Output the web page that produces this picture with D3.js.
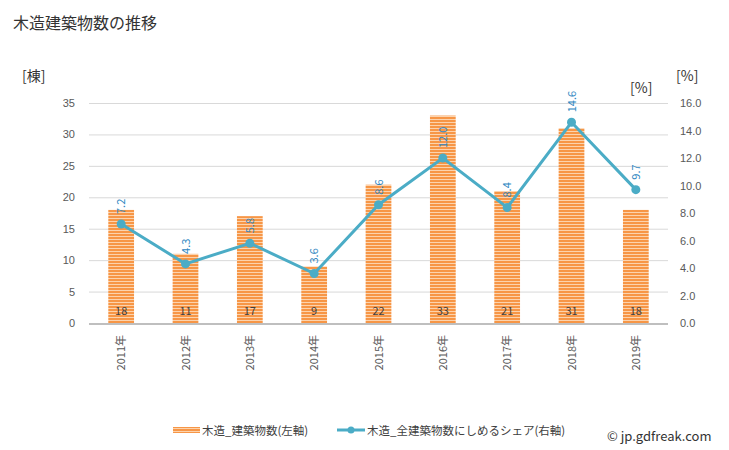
<!DOCTYPE html>
<html><head><meta charset="utf-8">
<script src="https://cdn.jsdelivr.net/npm/d3@7"></script>
<style>body{margin:0;background:#fff}svg{display:block;font-family:"Noto Sans CJK JP","Noto Sans",sans-serif}</style>
</head><body><svg id="c" width="729" height="450"></svg>
<script>
const categories = ["2011年","2012年","2013年","2014年","2015年","2016年","2017年","2018年","2019年"];
const barValues = [18,11,17,9,22,33,21,31,18];
const shareValues = [7.2,4.3,5.8,3.6,8.6,12.0,8.4,14.6,9.7];
const leftTicks = [0,5,10,15,20,25,30,35];
const rightTicks = [0,2,4,6,8,10,12,14,16];

const svg = d3.select("#c");
const L = 89, R = 668, T = 103, B = 323;
const x = d3.scaleBand().domain(categories).range([L, R]).paddingInner(0.6).paddingOuter(0.3);
const xc = d3.scalePoint().domain(categories).range([L, R]).padding(0.5);
const y = d3.scaleLinear().domain([0,35]).range([B, T]);
const y2 = d3.scaleLinear().domain([0,16]).range([B, T]);

const defs = svg.append("defs");
const pat = defs.append("pattern").attr("id","stripe").attr("patternUnits","userSpaceOnUse").attr("width",4).attr("height",3);
pat.append("rect").attr("width",4).attr("height",3).attr("fill","#f79646");
pat.append("rect").attr("y",2).attr("width",4).attr("height",1).attr("fill","#fcd3ad");

svg.append("text").attr("x",13).attr("y",29).attr("font-size",16).attr("fill","#333").text("木造建築物数の推移");
svg.append("text").attr("x",22).attr("y",81).attr("font-size",14).attr("fill","#333").text("[棟]");
svg.append("text").attr("x",676).attr("y",81).attr("font-size",14).attr("fill","#333").text("[%]");
svg.append("text").attr("x",630).attr("y",93).attr("font-size",14).attr("fill","#333").text("[%]");

// gridlines
svg.append("g").selectAll("line").data(leftTicks.filter(d=>d>0)).join("line")
  .attr("x1",L).attr("x2",R).attr("y1",d=>y(d)+0.5).attr("y2",d=>y(d)+0.5)
  .attr("stroke","#d9d9d9").attr("stroke-width",1);

// left axis
const la = svg.append("g").attr("transform",`translate(${L-14},0)`)
  .call(d3.axisLeft(y).tickValues(leftTicks).tickSize(0).tickPadding(0));
la.select(".domain").remove();
la.selectAll("text").attr("font-size",11).attr("fill","#595959").attr("font-family","inherit");

// right axis
const ra = svg.append("g").attr("transform",`translate(${R+12},0)`)
  .call(d3.axisRight(y2).tickValues(rightTicks).tickFormat(d3.format(".1f")).tickSize(0).tickPadding(0));
ra.select(".domain").remove();
ra.selectAll("text").attr("font-size",11).attr("fill","#595959").attr("font-family","inherit");

// bars
svg.append("g").selectAll("rect").data(barValues).join("rect")
  .attr("x",(d,i)=>x(categories[i])).attr("width",x.bandwidth())
  .attr("y",d=>y(d)).attr("height",d=>B-y(d)).attr("fill","url(#stripe)");

// baseline
svg.append("line").attr("x1",L).attr("x2",R).attr("y1",B+1).attr("y2",B+1).attr("stroke","#bfbfbf").attr("stroke-width",2);

// bar labels
svg.append("g").selectAll("text").data(barValues).join("text")
  .attr("x",(d,i)=>xc(categories[i])).attr("y",B-8).attr("text-anchor","middle")
  .attr("font-size",11).attr("fill","#404040").text(d=>d);

// x labels
svg.append("g").selectAll("text").data(categories).join("text")
  .attr("transform",d=>`translate(${xc(d)+4},${B+12}) rotate(-90)`).attr("text-anchor","end")
  .attr("font-size",11).attr("fill","#595959").text(d=>d);

// line
const line = d3.line().x((d,i)=>xc(categories[i])).y(d=>y2(d));
svg.append("path").datum(shareValues).attr("d",line).attr("fill","none").attr("stroke","#4bacc6").attr("stroke-width",3);
svg.append("g").selectAll("circle").data(shareValues).join("circle")
  .attr("cx",(d,i)=>xc(categories[i])).attr("cy",d=>y2(d)).attr("r",4.5).attr("fill","#4bacc6");

// line labels
svg.append("g").selectAll("text").data(shareValues).join("text")
  .attr("transform",(d,i)=>`translate(${xc(categories[i])+4},${y2(d)-10}) rotate(-90)`)
  .attr("text-anchor","start").attr("font-size",11).attr("fill","#2e86c1").text(d=>d.toFixed(1));

// legend
const lg = svg.append("g");
lg.append("rect").attr("x",173).attr("y",427).attr("width",27).attr("height",6).attr("fill","url(#stripe)");
lg.append("text").attr("x",202).attr("y",435).attr("font-size",11.5).attr("fill","#404040").text("木造_建築物数(左軸)");
lg.append("line").attr("x1",337).attr("x2",365).attr("y1",430).attr("y2",430).attr("stroke","#4bacc6").attr("stroke-width",3);
lg.append("circle").attr("cx",351).attr("cy",430).attr("r",3.5).attr("fill","#4bacc6");
lg.append("text").attr("x",367).attr("y",435).attr("font-size",11.5).attr("fill","#404040").text("木造_全建築物数にしめるシェア(右軸)");

svg.append("text").attr("x",607).attr("y",441).attr("font-size",13).attr("fill","#333").text("© jp.gdfreak.com");
</script></body></html>
